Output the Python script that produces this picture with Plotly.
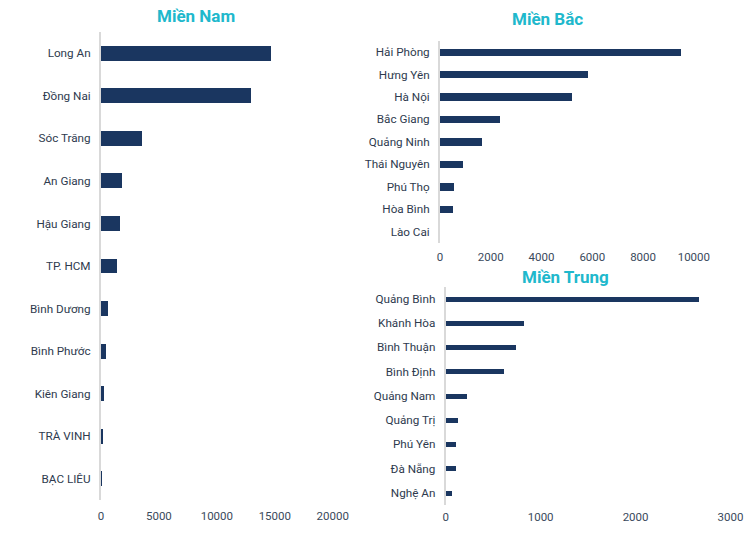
import plotly.graph_objects as go

W, H = 753, 534
W_EFF = 737  # width the page actually lays the figure out at

nam_labels = ["Long An", "Đồng Nai", "Sóc Trăng", "An Giang", "Hậu Giang", "TP. HCM",
              "Bình Dương", "Bình Phước", "Kiên Giang", "TRÀ VINH", "BẠC LIÊU"]
nam_values = [14700, 12900, 3500, 1800, 1670, 1380, 580, 460, 230, 170, 60]

bac_labels = ["Hải Phòng", "Hưng Yên", "Hà Nội", "Bắc Giang", "Quảng Ninh",
              "Thái Nguyên", "Phú Thọ", "Hòa Bình", "Lào Cai"]
bac_values = [9500, 5850, 5200, 2350, 1670, 920, 570, 530, 0]

trung_labels = ["Quảng Bình", "Khánh Hòa", "Bình Thuận", "Bình Định", "Quảng Nam",
                "Quảng Trị", "Phú Yên", "Đà Nẵng", "Nghệ An"]
trung_values = [2670, 818, 737, 607, 218, 123, 105, 102, 60]

titles = ["Miền Nam", "Miền Bắc", "Miền Trung"]

BAR = "#1A3660"
TEAL = "#20B8CC"
TXT = "#2E3A4E"
FONT = "Roboto"

def px_x(p):
    return ((p - 2) / 0.9966) / W_EFF

def px_y(p):
    return 1 - p / H

fig = go.Figure()

fig.add_trace(go.Bar(y=nam_labels, x=nam_values, orientation="h", width=0.35,
                     marker=dict(color=BAR, line=dict(width=0)), xaxis="x", yaxis="y"))
fig.add_trace(go.Bar(y=bac_labels, x=bac_values, orientation="h", width=0.33,
                     marker=dict(color=BAR, line=dict(width=0)), xaxis="x2", yaxis="y2"))
fig.add_trace(go.Bar(y=trung_labels, x=trung_values, orientation="h", width=0.2,
                     marker=dict(color=BAR, line=dict(width=0)), xaxis="x3", yaxis="y3"))

def xaxis(dom, rng, dtick, anchor, tl):
    return dict(domain=[px_x(dom[0]), px_x(dom[1])], range=rng, dtick=dtick,
                tickformat="d",
                showgrid=False, zeroline=False, showline=False,
                ticks="outside", ticklen=tl, tickcolor="rgba(0,0,0,0)",
                tickfont=dict(family=FONT, size=11.5, color="#3A4A5C"),
                anchor=anchor, fixedrange=True)

def yaxis(dom, n, anchor):
    return dict(domain=[px_y(dom[1]), px_y(dom[0])], range=[n - 0.5, -0.5],
                showgrid=False, zeroline=False, showline=True, linecolor="#D9D9D9",
                linewidth=2, ticks="outside", ticklen=6, tickcolor="rgba(0,0,0,0)",
                tickfont=dict(family=FONT, size=11.7, color=TXT),
                anchor=anchor, fixedrange=True, type="category")

fig.update_layout(
    width=W, height=H, autosize=False, margin=dict(l=0, r=0, t=0, b=0),
    paper_bgcolor="white", plot_bgcolor="white", showlegend=False,
    bargap=0,
    xaxis=xaxis((100, 332), [0, 20000], 5000, "y", 5),
    yaxis=yaxis((32, 500), len(nam_labels), "x"),
    xaxis2=xaxis((439.3, 693.3), [0, 10000], 2000, "y2", 3),
    yaxis2=yaxis((40.7, 243), len(bac_labels), "x2"),
    xaxis3=xaxis((445, 730), [0, 3000], 1000, "y3", 1),
    yaxis3=yaxis((286.7, 505), len(trung_labels), "x3"),
)

title_pos = [(195, 16), (546.5, 19), (565, 277)]
for t, (x, y) in zip(titles, title_pos):
    fig.add_annotation(text="<b>%s</b>" % t, x=px_x(x), y=px_y(y), xref="paper", yref="paper",
                       xanchor="center", yanchor="middle", showarrow=False,
                       font=dict(family=FONT, size=17, color=TEAL))

post = "document.body.style.margin='0';document.body.style.overflow='hidden';"

fig.write_html("out.html", config={"displayModeBar": False}, post_script=post)
